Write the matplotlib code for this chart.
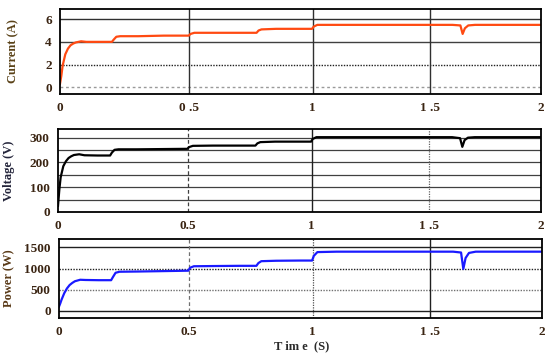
import numpy as np
import matplotlib
matplotlib.use("Agg")
import matplotlib.pyplot as plt

# ---- data ----
time_s = [0, 0.005, 0.01, 0.02, 0.03, 0.04, 0.05, 0.06, 0.08, 0.1, 0.15, 0.198,
          0.205, 0.215, 0.23, 0.3, 0.4, 0.498, 0.505, 0.52, 0.6, 0.7, 0.77, 0.778,
          0.79, 0.85, 0.95, 0.998, 1.005, 1.02, 1.1, 1.3, 1.5, 1.6, 1.635, 1.645,
          1.655, 1.67, 1.7, 1.8, 1.9, 2.0]
current_a = [0.3, 1.0, 1.9, 2.9, 3.4, 3.7, 3.85, 3.95, 4.05, 4.0, 4.0, 4.0,
             4.2, 4.45, 4.5, 4.5, 4.55, 4.55, 4.7, 4.8, 4.8, 4.8, 4.8, 5.0,
             5.1, 5.15, 5.15, 5.15, 5.35, 5.5, 5.5, 5.5, 5.5, 5.5, 5.45, 4.7,
             5.2, 5.45, 5.5, 5.5, 5.5, 5.5]
voltage_v = [25, 90, 140, 185, 205, 218, 225, 230, 233, 229, 228, 228,
             240, 251, 253, 253, 254, 255, 262, 267, 268, 268, 268, 277,
             282, 284, 284, 284, 295, 302, 302, 302, 302, 302, 298, 263,
             290, 300, 302, 302, 302, 302]
power_w = [100, 180, 270, 420, 530, 610, 660, 700, 735, 730, 725, 725,
           800, 900, 925, 930, 940, 950, 1020, 1055, 1060, 1065, 1065, 1130,
           1175, 1185, 1190, 1190, 1300, 1390, 1400, 1400, 1400, 1400, 1380, 990,
           1250, 1370, 1400, 1400, 1400, 1400]

x_ticks = [0, 0.5, 1, 1.5, 2]
x_labels_1 = ["0", "0 .5", "1", "1 .5", "2"]
x_labels_2 = ["0", "0.5", "1", "1 .5", "2"]
x_labels_3 = ["0", "0.5", "1", "1 .5", "2"]
cur_ticks = [0, 2, 4, 6]
volt_ticks = [0, 100, 200, 300]
volt_grid = [50, 100, 150, 200, 250, 300]
pow_ticks = [0, 500, 1000, 1500]

# ---- style ----
SERIF = ["Liberation Serif", "DejaVu Serif"]
TICK_C = "#3a2412"

def fwd(t):
    t = np.asarray(t, dtype=float)
    return 264.0 * t - 12.0 * t ** 2

def inv(y):
    y = np.asarray(y, dtype=float)
    return (264.0 - np.sqrt(np.clip(264.0 ** 2 - 48.0 * y, 0, None))) / 24.0

fig = plt.figure(figsize=(5.5, 3.57), dpi=100)
W, H = 550.0, 357.0

def make_ax(left, top, right, bottom):
    return fig.add_axes([left / W, 1 - bottom / H, (right - left) / W, (bottom - top) / H])

ax1 = make_ax(60, 9, 541, 94)
ax2 = make_ax(58, 129, 541, 212)
ax3 = make_ax(59, 239, 542, 318)

def base(ax, labels, ylabel, ycolor, label_x):
    ax.set_xscale("function", functions=(fwd, inv))
    ax.set_xlim(0, 2)
    ax.set_xticks(x_ticks)
    ax.set_xticklabels(labels)
    ax.tick_params(length=0, labelsize=9.5, colors=TICK_C)
    ax.tick_params(axis="x", pad=6)
    ax.tick_params(axis="y", pad=6)
    for lab in ax.get_xticklabels() + ax.get_yticklabels():
        lab.set_fontfamily(SERIF)
        lab.set_fontweight("bold")
    for s in ax.spines.values():
        s.set_color("black")
        s.set_linewidth(1.3)
    ax.set_ylabel(ylabel, family=SERIF, fontweight="bold", fontsize=9, color=ycolor)
    ax.yaxis.set_label_coords(label_x, 0.5)

# panel 1: current
ax1.set_ylim(-0.6, 6.9)
ax1.set_yticks(cur_ticks)
base(ax1, x_labels_1, "Current (A)", "#5a4218", -0.085)
ax1.axhline(6, color="#303030", lw=1.0, zorder=0)
ax1.axhline(4, color="#404040", lw=1.0, zorder=0)
ax1.axhline(2, color="#202020", lw=1.0, ls=(0, (1, 1)), zorder=0)
ax1.axhline(0, color="#9a9a9a", lw=1.0, ls=(0, (2, 2)), zorder=0)
for xv in [0.5, 1, 1.5]:
    ax1.axvline(xv, color="#303030", lw=1.0, zorder=0)
ax1.plot(time_s, current_a, color="#ff4a12", lw=1.6)

# panel 2: voltage
ax2.set_ylim(0, 335)
ax2.set_yticks(volt_ticks)
base(ax2, x_labels_2, "Voltage (V)", "#23243a", -0.088)
for yv in volt_grid:
    ax2.axhline(yv, color="#404040", lw=0.9, zorder=0)
ax2.axvline(0.5, color="#404040", lw=0.9, ls=(0, (3, 2)), zorder=0)
ax2.axvline(1, color="#202020", lw=1.0, zorder=0)
ax2.axvline(1.5, color="#606060", lw=0.9, ls=(0, (1, 1)), zorder=0)
ax2.plot(time_s, voltage_v, color="black", lw=1.6)

# panel 3: power
ax3.set_ylim(-170, 1700)
ax3.set_yticks(pow_ticks)
base(ax3, x_labels_3, "Power (W)", "#5a3a18", -0.09)
ax3.axhline(1500, color="#202020", lw=1.0, zorder=0)
ax3.axhline(1000, color="#202020", lw=1.0, ls=(0, (1, 1)), zorder=0)
ax3.axhline(500, color="#707070", lw=1.0, ls=(0, (1, 1)), zorder=0)
ax3.axhline(0, color="#202020", lw=1.0, zorder=0)
ax3.axvline(0.5, color="#707070", lw=0.9, ls=(0, (3, 2)), zorder=0)
ax3.axvline(1, color="#505050", lw=0.9, ls=(0, (1, 1)), zorder=0)
ax3.axvline(1.5, color="#202020", lw=1.0, zorder=0)
ax3.plot(time_s, power_w, color="#1a1aff", lw=1.6)

fig.text(302 / W, 1 - 346 / H, "T im e  (S)", family=SERIF, fontweight="bold",
         fontsize=9, color="#2a2a2a", ha="center", va="center")

fig.savefig("out.png", dpi=100)
